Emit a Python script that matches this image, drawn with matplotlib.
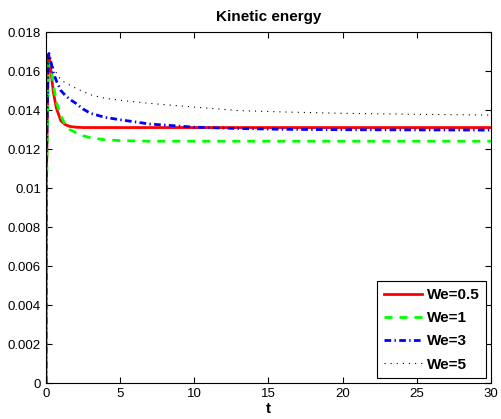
import numpy as np
import matplotlib
matplotlib.use("Agg")
import matplotlib.pyplot as plt
from matplotlib.ticker import FormatStrFormatter

plt.rcParams["font.family"] = ["Liberation Sans", "DejaVu Sans"]

# kinetic energy vs time for each Weissenberg number
t = [0, 0.02, 0.15, 0.2, 0.3, 0.5, 0.7, 1.0, 1.3, 1.6, 2, 2.5, 3, 4, 5, 7, 10, 13, 16, 20, 25, 30]

ke_we05 = [0, 0.0100, 0.0167, 0.0168, 0.0162, 0.0149, 0.0141, 0.01345, 0.01325, 0.01316, 0.01312,
           0.0131, 0.0131, 0.0131, 0.0131, 0.0131, 0.0131, 0.0131, 0.0131, 0.0131, 0.0131, 0.0131]
ke_we1 = [0, 0.0090, 0.0160, 0.0164, 0.0163, 0.0153, 0.0144, 0.0137, 0.01325, 0.0130, 0.01285,
          0.01268, 0.01258, 0.01247, 0.01243, 0.0124, 0.0124, 0.0124, 0.0124, 0.0124, 0.0124, 0.0124]
ke_we3 = [0, 0.0110, 0.0168, 0.0169, 0.0166, 0.0159, 0.0155, 0.0150, 0.01475, 0.01455, 0.01435,
          0.01405, 0.01383, 0.01362, 0.0135, 0.01328, 0.01312, 0.01305, 0.01301, 0.01299, 0.01298, 0.01297]
ke_we5 = [0, 0.0105, 0.0165, 0.0167, 0.0166, 0.0162, 0.0159, 0.01555, 0.0154, 0.01528, 0.01512,
          0.01495, 0.01478, 0.0146, 0.0145, 0.01434, 0.01415, 0.01397, 0.0139, 0.01383, 0.01378, 0.01374]

labels = ["We=0.5", "We=1", "We=3", "We=5"]

fig = plt.figure(figsize=(5.02, 4.19), dpi=100)
ax = fig.add_axes([0.0916, 0.0859, 0.8864, 0.8377])

ax.plot(t, ke_we05, color="#ff0000", lw=2.0, label=labels[0])
ax.plot(t, ke_we1, color="#00ff00", lw=2.0, linestyle=(0, (2.9, 2.5)), label=labels[1])
ax.plot(t, ke_we3, color="#0000ff", lw=2.0, linestyle=(0, (2.4, 1.2, 0.5, 1.2)), label=labels[2])
ax.plot(t, ke_we5, color="black", lw=0.8, linestyle=(0, (1, 4.5)), label=labels[3])

ax.set_xlim(0, 30)
ax.set_ylim(0, 0.018)
ax.set_xticks(np.arange(0, 31, 5))
ax.set_yticks(np.arange(0, 0.0181, 0.002))
ax.yaxis.set_major_formatter(FormatStrFormatter("%g"))
ax.tick_params(direction="in", top=True, right=True, length=4, width=0.8, labelsize=9.5)
for sp in ax.spines.values():
    sp.set_linewidth(0.8)

ax.set_title("Kinetic energy", fontsize=11, fontweight="bold", pad=8)
ax.set_xlabel("t", fontsize=11, fontweight="bold", labelpad=1.5)

leg = ax.legend(loc="lower right", prop={"size": 11, "weight": "bold"},
                fancybox=False, edgecolor="black", framealpha=1,
                handlelength=2.5, borderaxespad=0.3, labelspacing=0.6,
                handletextpad=0.3, borderpad=0.45)
leg.get_frame().set_linewidth(0.8)

fig.savefig("out.png", dpi=100)
